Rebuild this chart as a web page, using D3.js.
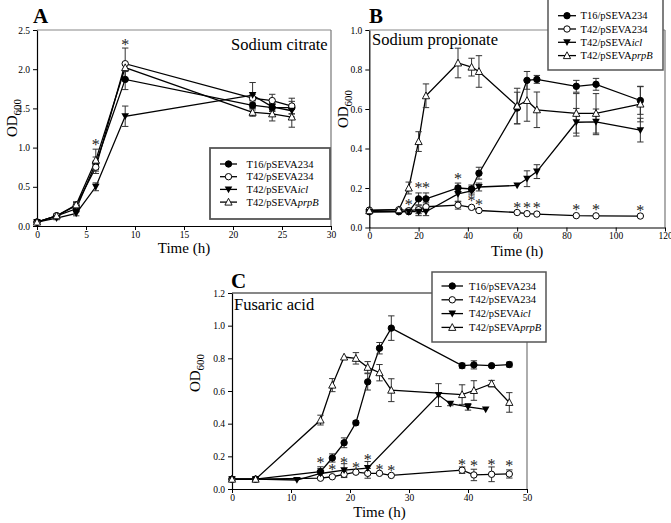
<!DOCTYPE html>
<html><head><meta charset="utf-8">
<script src="https://cdn.jsdelivr.net/npm/d3@7"></script>
<style>body{margin:0;background:#fff}svg{display:block}svg text{font-family:"Liberation Serif","Times New Roman",Tinos,"DejaVu Serif",serif !important}</style>
</head><body><svg id="c" width="671" height="523"></svg>
<script>
// Legend labels (roman part + italic suffix)
const legendRoman = ["T16/pSEVA234","T42/pSEVA234","T42/pSEVA","T42/pSEVA"];
const legendItalic = ["","","icl","prpB"];

// ---------- Panel A: Sodium citrate ----------
const timeA = [0,2,4,6,9,22,24,26];
const A_T16      = [0.05,0.13,0.22,0.80,1.87,1.54,1.51,1.51];
const A_T16_err  = [0.01,0.02,0.04,0.08,0.13,0.06,0.05,0.08];
const A_T42      = [0.05,0.13,0.26,0.75,2.07,1.63,1.60,1.53];
const A_T42_err  = [0.01,0.02,0.04,0.08,0.20,0.05,0.08,0.10];
const A_icl      = [0.05,0.10,0.16,0.50,1.40,1.67,1.52,1.47];
const A_icl_err  = [0.01,0.02,0.03,0.05,0.13,0.16,0.05,0.08];
const A_prpB     = [0.05,0.13,0.27,0.84,2.02,1.45,1.43,1.39];
const A_prpB_err = [0.01,0.02,0.04,0.14,0.05,0.05,0.09,0.13];
const A_starT = [6,9];
const A_starY = [1.07,2.35];
const A_ticksX = [0,5,10,15,20,25,30];
const A_ticksY = [0,0.5,1.0,1.5,2.0,2.5];

// ---------- Panel B: Sodium propionate ----------
const timeB = [0,12,16,20,23,36,41.5,44.5,60,64,68,84,92,110];
const B_T16      = [0.08,0.08,0.08,0.145,0.145,0.20,0.195,0.275,0.605,0.745,0.75,0.715,0.725,0.643];
const B_T16_err  = [0.01,0.01,0.01,0.03,0.03,0.025,0.02,0.03,0.08,0.045,0.02,0.03,0.03,0.07];
const B_T42      = [0.088,0.09,0.085,0.09,0.105,0.113,0.102,0.086,0.076,0.07,0.068,0.060,0.059,0.058];
const B_T42_err  = [0.005,0.005,0.01,0.02,0.02,0.02,0.01,0.005,0.005,0.005,0.005,0.005,0.005,0.005];
const B_icl      = [0.078,0.08,0.08,0.08,0.08,0.17,0.185,0.205,0.213,0.247,0.283,0.533,0.535,0.493];
const B_icl_err  = [0.005,0.01,0.01,0.02,0.02,0.04,0.02,0.02,0.01,0.04,0.035,0.07,0.065,0.06];
const B_prpB     = [0.085,0.09,0.20,0.435,0.667,0.833,0.812,0.79,0.615,0.643,0.596,0.578,0.578,0.625];
const B_prpB_err = [0.005,0.005,0.03,0.05,0.06,0.075,0.045,0.08,0.09,0.105,0.09,0.10,0.10,0.09];
const B_starT = [16,20,23,36,41.5,44.5,60,64,68,84,92,110];
const B_starY = [0.13,0.215,0.215,0.26,0.15,0.13,0.115,0.115,0.115,0.105,0.105,0.10];
const B_ticksX = [0,20,40,60,80,100,120];
const B_ticksY = [0,0.2,0.4,0.6,0.8,1.0];

// ---------- Panel C: Fusaric acid ----------
const timeC = [0,4,15,17,19,21,23,25,27,39,41,44,47];
const C_T16      = [0.06,0.06,0.106,0.19,0.283,0.405,0.656,0.862,0.985,0.755,0.76,0.755,0.762];
const C_T16_err  = [0.005,0.005,0.03,0.025,0.03,0.012,0.05,0.035,0.075,0.015,0.025,0.01,0.015];
const C_T42      = [0.06,0.06,0.066,0.075,0.09,0.103,0.096,0.096,0.083,0.115,0.086,0.09,0.092];
const C_T42_err  = [0.005,0.005,0.005,0.005,0.02,0.01,0.03,0.005,0.005,0.02,0.035,0.045,0.025];
const timeC_icl  = [0,4,11,15,19,23,35,37,40,43];
const C_icl      = [0.06,0.06,0.055,0.095,0.115,0.128,0.575,0.522,0.503,0.487];
const C_icl_err  = [0.005,0.005,0.005,0.03,0.04,0.04,0.07,0.012,0.02,0.005];
const C_prpB     = [0.06,0.06,0.422,0.636,0.808,0.80,0.745,0.712,0.605,0.578,0.603,0.645,0.53];
const C_prpB_err = [0.005,0.005,0.03,0.04,0.008,0.035,0.035,0.05,0.07,0.06,0.06,0.02,0.06];
const C_starT = [15,17,19,21,23,25,27,39,41,44,47];
const C_starY = [0.177,0.136,0.177,0.15,0.197,0.136,0.13,0.167,0.16,0.167,0.16];
const C_ticksX = [0,10,20,30,40,50];
const C_ticksY = [0,0.2,0.4,0.6,0.8,1.0,1.2];

const FONT = '"Liberation Serif","Times New Roman",Tinos,"DejaVu Serif",serif';
const svg = d3.select("#c").attr("font-family", FONT);

function series(t, v, e){ return t.map((x,i)=>({t:x, v:v[i], e:e[i]})); }

function marker(g, type, x, y){
  if(type===0) g.append("circle").attr("cx",x).attr("cy",y).attr("r",3.2).attr("fill","#000").attr("stroke","#000");
  else if(type===1) g.append("circle").attr("cx",x).attr("cy",y).attr("r",3.2).attr("fill","#fff").attr("stroke","#000").attr("stroke-width",1);
  else if(type===2) g.append("path").attr("transform",`translate(${x},${y})`).attr("d","M-3.8,-3 L3.8,-3 L0,3.8 Z").attr("fill","#000");
  else g.append("path").attr("transform",`translate(${x},${y})`).attr("d","M0,-3.8 L3.6,3 L-3.6,3 Z").attr("fill","#fff").attr("stroke","#000").attr("stroke-width",0.9);
}

function T(g){ return g.append("text").attr("font-family",FONT).attr("fill","#000"); }

function panel(cfg){
  const x = d3.scaleLinear().domain(cfg.xd).range(cfg.xr);
  const y = d3.scaleLinear().domain(cfg.yd).range(cfg.yr);
  const g = svg.append("g");
  // frame top/right
  g.append("line").attr("x1",cfg.xr[0]).attr("x2",cfg.xr[1]).attr("y1",cfg.yr[1]).attr("y2",cfg.yr[1]).attr("stroke",cfg.topColor).attr("stroke-width",1.2);
  g.append("line").attr("x1",cfg.xr[1]).attr("x2",cfg.xr[1]).attr("y1",cfg.yr[1]).attr("y2",cfg.yr[0]).attr("stroke","#777").attr("stroke-width",1.2);
  // axes
  const ax = g.append("g").attr("transform",`translate(0,${cfg.yr[0]})`)
    .call(d3.axisBottom(x).tickValues(cfg.tx).tickFormat(d3.format("d")).tickSize(4).tickSizeOuter(0).tickPadding(1));
  const ay = g.append("g").attr("transform",`translate(${cfg.xr[0]},0)`)
    .call(d3.axisLeft(y).tickValues(cfg.ty).tickFormat(d3.format(".1f")).tickSize(4).tickSizeOuter(0).tickPadding(3));
  [ax,ay].forEach(a=>{
    a.attr("font-family",FONT).attr("font-size",9.5);
    a.selectAll("text").attr("font-family",FONT).attr("font-size","9.5px").attr("fill","#000");
    a.selectAll("line").attr("stroke","#000");
    a.select(".domain").attr("stroke","#000").attr("stroke-width",1.2);
  });
  // axis titles
  T(g).attr("x",(cfg.xr[0]+cfg.xr[1])/2).attr("y",cfg.xTitleY).attr("text-anchor","middle")
    .attr("font-size","15px").text("Time (h)");
  const yt = T(g).attr("transform",`translate(${cfg.yTitleX},${cfg.yTitleY}) rotate(-90)`).attr("text-anchor","middle").attr("font-size","15px");
  yt.append("tspan").text("OD");
  yt.append("tspan").attr("font-size","11px").attr("dy","4").text("600");
  // panel letter
  T(g).attr("x",cfg.letterX).attr("y",cfg.letterY).attr("font-size","21px").attr("font-weight","bold").text(cfg.letter);
  // title
  T(g).attr("x",cfg.titleX).attr("y",cfg.titleY).attr("font-size","16.5px").text(cfg.title);
  // lines
  const line = d3.line().x(d=>x(d.t)).y(d=>y(d.v));
  cfg.series.forEach(s=>{
    g.append("path").datum(s).attr("d",line).attr("fill","none").attr("stroke","#000").attr("stroke-width",1.3);
  });
  // error bars
  cfg.series.forEach(s=>{
    s.forEach(d=>{
      if(d.e<0.012) return;
      const xx=x(d.t), y1=y(d.v+d.e), y2=y(d.v-d.e);
      g.append("line").attr("x1",xx).attr("x2",xx).attr("y1",y1).attr("y2",y2).attr("stroke","#333").attr("stroke-width",1);
      g.append("line").attr("x1",xx-3.2).attr("x2",xx+3.2).attr("y1",y1).attr("y2",y1).attr("stroke","#333").attr("stroke-width",1);
      g.append("line").attr("x1",xx-3.2).attr("x2",xx+3.2).attr("y1",y2).attr("y2",y2).attr("stroke","#333").attr("stroke-width",1);
    });
  });
  // markers
  cfg.series.forEach((s,k)=>{ s.forEach(d=>marker(g,k,x(d.t),y(d.v))); });
  // asterisks
  cfg.starT.forEach((t,i)=>{
    T(g).attr("x",x(t)).attr("y",y(cfg.starY[i])+8).attr("text-anchor","middle").attr("font-size","16px").attr("fill","#222").text("*");
  });
  // legend
  const L = cfg.legend;
  g.append("rect").attr("x",L.x).attr("y",L.y).attr("width",L.w).attr("height",L.h).attr("fill","#fff").attr("stroke","#555").attr("stroke-width",L.sw);
  for(let k=0;k<4;k++){
    const yy = L.y0 + k*L.dy;
    g.append("line").attr("x1",L.lx1).attr("x2",L.lx2).attr("y1",yy).attr("y2",yy).attr("stroke","#000").attr("stroke-width",1.3);
    marker(g,k,(L.lx1+L.lx2)/2,yy);
    const tx = T(g).attr("x",L.tx).attr("y",yy+3.6).attr("font-size","10.5px");
    tx.append("tspan").text(legendRoman[k]);
    if(legendItalic[k]) tx.append("tspan").attr("font-style","italic").text(legendItalic[k]);
  }
}

panel({
  xd:[0,30], xr:[37,331], yd:[0,2.5], yr:[226,30], tx:A_ticksX, ty:A_ticksY, topColor:"#888",
  series:[series(timeA,A_T16,A_T16_err),series(timeA,A_T42,A_T42_err),series(timeA,A_icl,A_icl_err),series(timeA,A_prpB,A_prpB_err)],
  starT:A_starT, starY:A_starY,
  xTitleY:253, yTitleX:17, yTitleY:118, letter:"A", letterX:33, letterY:23,
  title:"Sodium citrate", titleX:231, titleY:50,
  legend:{x:210,y:148,w:120,h:71,sw:1.8,y0:164,dy:12.7,lx1:220,lx2:237,tx:246.5}
});
panel({
  xd:[0,120], xr:[369.3,665], yd:[0,1], yr:[227.5,30], tx:B_ticksX, ty:B_ticksY, topColor:"#888",
  series:[series(timeB,B_T16,B_T16_err),series(timeB,B_T42,B_T42_err),series(timeB,B_icl,B_icl_err),series(timeB,B_prpB,B_prpB_err)],
  starT:B_starT, starY:B_starY,
  xTitleY:256, yTitleX:348, yTitleY:109, letter:"B", letterX:369, letterY:23,
  title:"Sodium propionate", titleX:372, titleY:45,
  legend:{x:548,y:-1,w:115,h:71,sw:1.5,y0:15.7,dy:13.3,lx1:558,lx2:576,tx:580.5}
});
panel({
  xd:[0,50], xr:[232,527], yd:[0,1.2], yr:[489,293], tx:C_ticksX, ty:C_ticksY, topColor:"#111",
  series:[series(timeC,C_T16,C_T16_err),series(timeC,C_T42,C_T42_err),series(timeC_icl,C_icl,C_icl_err),series(timeC,C_prpB,C_prpB_err)],
  starT:C_starT, starY:C_starY,
  xTitleY:517, yTitleX:200, yTitleY:373, letter:"C", letterX:231, letterY:288,
  title:"Fusaric acid", titleX:234, titleY:310,
  legend:{x:432,y:272,w:114,h:70,sw:1.5,y0:286,dy:13.8,lx1:441.5,lx2:463,tx:469}
});
</script></body></html>
